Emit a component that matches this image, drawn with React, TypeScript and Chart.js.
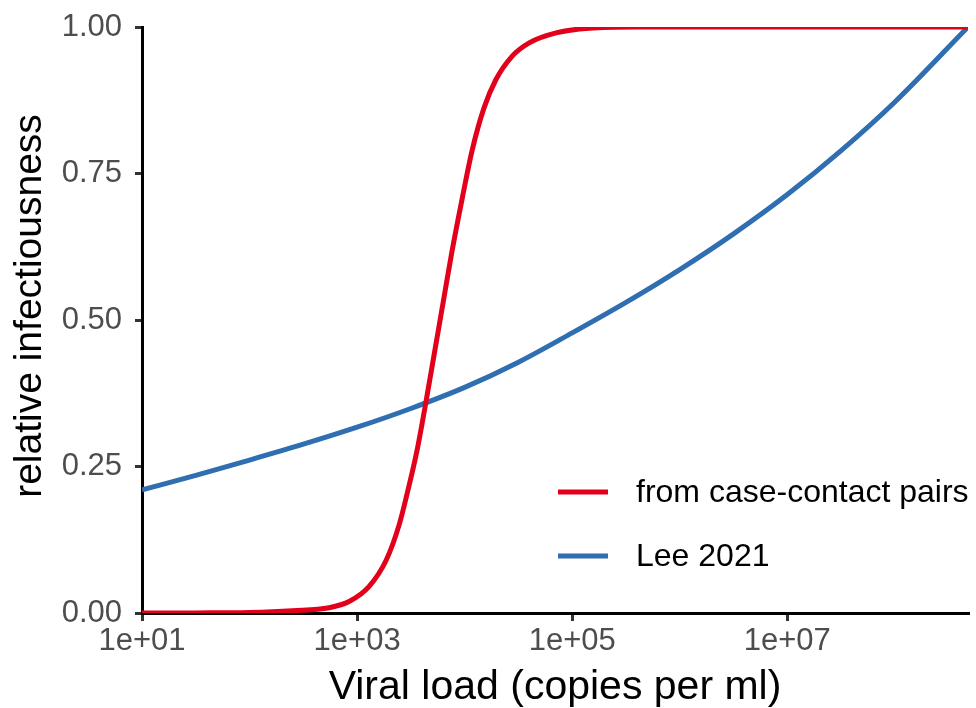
import React, { useEffect, useRef } from "react";
import { Chart, registerables } from "chart.js";

Chart.register(...registerables);

// log10 of viral load (copies per ml) and relative infectiousness
const redLog10VL = [1.0, 1.5, 2.0, 2.4, 2.74, 2.93, 3.11, 3.27, 3.39, 3.48, 3.56, 3.64, 3.72, 3.8, 3.88, 3.98, 4.07, 4.18, 4.29, 4.44, 4.6, 4.85, 5.16, 5.6, 6.5, 7.5, 8.68];
const redValues = [0, 0.0002, 0.001, 0.004, 0.009, 0.02, 0.045, 0.09, 0.15, 0.215, 0.28, 0.36, 0.445, 0.53, 0.615, 0.71, 0.79, 0.862, 0.91, 0.95, 0.973, 0.99, 0.998, 1.0, 1.0, 1.0, 1.0];

const blueLog10VL = [1.0, 1.5, 2.0, 2.5, 3.0, 3.5, 4.0, 4.5, 5.0, 5.5, 6.0, 6.5, 7.0, 7.5, 8.0, 8.68];
const blueValues = [0.21, 0.235, 0.261, 0.288, 0.317, 0.349, 0.385, 0.428, 0.478, 0.53, 0.586, 0.647, 0.714, 0.789, 0.872, 1.0];

const seriesLabels = ["from case-contact pairs", "Lee 2021"];
const seriesColors = ["#E2001A", "#2F6EB0"];

const xTickValues = [1e1, 1e3, 1e5, 1e7];
const xMin = 1e1;
const xMaxLog10 = 8.68;
const yTickStep = 0.25;
const yTitle = "relative infectiousness";
const xTitle = "Viral load (copies per ml)";

const FONT = "'Liberation Sans', Arial, Helvetica, sans-serif";

const legendPlugin = {
  id: "insideLegend",
  afterDatasetsDraw(chart: any) {
    const { ctx, chartArea } = chart;
    const x0 = chartArea.right - 410;
    const x1 = x0 + 50;
    const tx = x0 + 78;
    const ys = [chartArea.bottom - 121, chartArea.bottom - 57];
    ctx.save();
    chart.data.datasets.forEach((ds: any, i: number) => {
      ctx.strokeStyle = ds.borderColor;
      ctx.lineWidth = 5;
      ctx.lineCap = "butt";
      ctx.beginPath();
      ctx.moveTo(x0, ys[i]);
      ctx.lineTo(x1, ys[i]);
      ctx.stroke();
      ctx.fillStyle = "#000000";
      ctx.font = `32px ${FONT}`;
      ctx.textAlign = "left";
      ctx.textBaseline = "middle";
      ctx.fillText(ds.label, tx, ys[i] + 1);
    });
    ctx.restore();
  },
};

const yTitlePlugin = {
  id: "yTitleDraw",
  afterDraw(chart: any) {
    const { ctx, chartArea } = chart;
    ctx.save();
    ctx.translate(30, (chartArea.top + chartArea.bottom) / 2 - 14);
    ctx.rotate(-Math.PI / 2);
    ctx.fillStyle = "#000000";
    ctx.font = `39px ${FONT}`;
    ctx.textAlign = "center";
    ctx.textBaseline = "middle";
    ctx.fillText(yTitle, 0, 0);
    ctx.restore();
  },
};

export default function App() {
  const canvasRef = useRef<HTMLCanvasElement | null>(null);

  useEffect(() => {
    if (!canvasRef.current) return;
    const toPoints = (xs: number[], ys: number[]) =>
      xs.map((lx, i) => ({ x: Math.pow(10, lx), y: ys[i] }));

    const chart = new Chart(canvasRef.current, {
      type: "line",
      data: {
        datasets: [
          {
            label: seriesLabels[0],
            data: toPoints(redLog10VL, redValues),
            borderColor: seriesColors[0],
            backgroundColor: seriesColors[0],
            borderWidth: 5,
            pointRadius: 0,
            cubicInterpolationMode: "monotone",
            fill: false,
          },
          {
            label: seriesLabels[1],
            data: toPoints(blueLog10VL, blueValues),
            borderColor: seriesColors[1],
            backgroundColor: seriesColors[1],
            borderWidth: 5,
            pointRadius: 0,
            cubicInterpolationMode: "monotone",
            fill: false,
          },
        ],
      },
      options: {
        animation: false,
        responsive: true,
        maintainAspectRatio: false,
        layout: { padding: { left: 0, top: 27, right: 8, bottom: 0 } },
        plugins: {
          legend: { display: false },
          tooltip: { enabled: false },
        },
        scales: {
          x: {
            type: "logarithmic",
            min: xMin,
            max: Math.pow(10, xMaxLog10),
            afterBuildTicks: (scale: any) => {
              scale.ticks = xTickValues.map((v) => ({ value: v }));
            },
            afterFit: (scale: any) => {
              scale.height = 95;
              scale.paddingLeft = 0;
              scale.paddingRight = 0;
            },
            grid: {
              drawOnChartArea: false,
              drawTicks: true,
              tickLength: 8,
              color: "#333333",
              lineWidth: 3,
            },
            border: { display: true, color: "#000000", width: 3 },
            ticks: {
              autoSkip: false,
              maxRotation: 0,
              padding: 2,
              color: "#4D4D4D",
              font: { family: FONT, size: 31 },
              callback: (v: any) => {
                const e = Math.round(Math.log10(Number(v)));
                return `1e+${String(e).padStart(2, "0")}`;
              },
            },
            title: {
              display: true,
              text: xTitle,
              color: "#000000",
              font: { family: FONT, size: 41, lineHeight: 1 },
              padding: { top: 0, bottom: 0 },
            },
          },
          y: {
            type: "linear",
            min: 0,
            max: 1,
            afterFit: (scale: any) => {
              scale.width = 142;
              scale.paddingTop = 0;
              scale.paddingBottom = 0;
            },
            grid: {
              drawOnChartArea: false,
              drawTicks: true,
              tickLength: 7,
              color: "#333333",
              lineWidth: 3,
            },
            border: { display: true, color: "#000000", width: 3 },
            ticks: {
              stepSize: yTickStep,
              padding: 13,
              color: "#4D4D4D",
              font: { family: FONT, size: 31 },
              callback: (v: any) => Number(v).toFixed(2),
            },
            title: { display: false },
          },
        },
      } as any,
      plugins: [legendPlugin, yTitlePlugin],
    });
    return () => chart.destroy();
  }, []);

  return (
    <div style={{ position: "fixed", left: 0, top: 0, width: 976, height: 708, background: "#ffffff" }}>
      <canvas ref={canvasRef} />
    </div>
  );
}
